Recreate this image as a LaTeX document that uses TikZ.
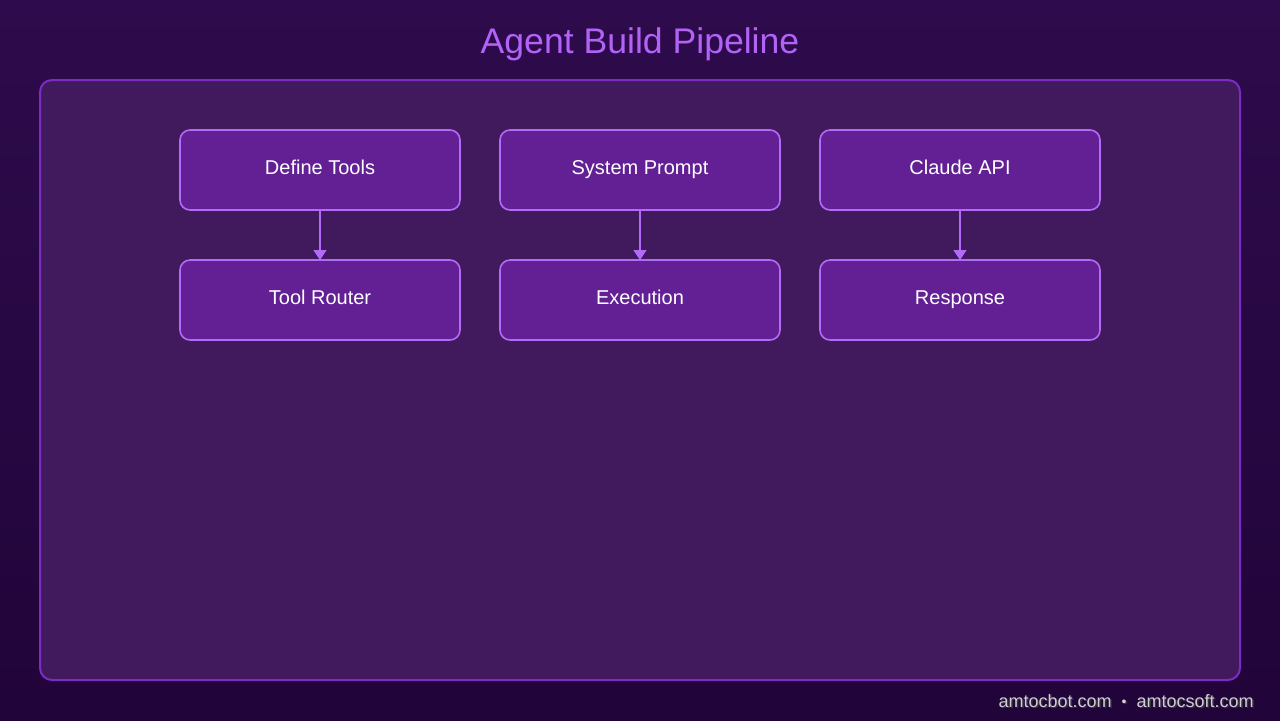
\documentclass[tikz,border=0pt]{standalone}
\usepackage{fontspec}
\setmainfont{Liberation Sans}
\usetikzlibrary{positioning,arrows.meta}
\definecolor{bgtop}{HTML}{2E0B4C}
\definecolor{bgbot}{HTML}{210439}
\definecolor{panelfill}{HTML}{401A5D}
\definecolor{panelline}{HTML}{7A2CC4}
\definecolor{boxfill}{HTML}{622094}
\definecolor{boxline}{HTML}{B46AF8}
\definecolor{titlecol}{HTML}{B262F7}
\definecolor{footcol}{HTML}{D2CCD8}

\begin{document}
\begin{tikzpicture}[x=0.5pt,y=-0.5pt]
\tikzset{
    stage/.style={
       draw=boxline, fill=boxfill, line width=0.8pt,
       rounded corners=5pt, outer sep=0pt,
       minimum width=140pt, minimum height=40pt,
       text height=7pt, text depth=3pt,
       text=white, font=\fontsize{10}{12}\selectfont
    },
    flow/.style={
      draw=boxline, line width=0.8pt,
      -{Triangle[length=5pt,width=6.5pt]}
    },
    foot/.style={
      anchor=base east, inner sep=0pt,
      font=\fontsize{9}{11}\selectfont
    }
}
%
\shade[top color=bgtop, bottom color=bgbot] (0,0) rectangle (1280,720);
\useasboundingbox (0,0) rectangle (1280,720);
\node[text=titlecol, anchor=base, font=\fontsize{17.8}{20}\selectfont] (title) at (640,53) {Agent Build Pipeline};
\draw[panelline, fill=panelfill, line width=1pt, rounded corners=6pt] (40,80) rectangle (1240,680);

\node[stage] (tools) at (320,170) {Define Tools};
\node[stage, right=20pt of tools] (prompt) {System Prompt};
\node[stage, right=20pt of prompt] (api) {Claude API};
\node[stage, below=25pt of tools] (router) {Tool Router};
\node[stage, below=25pt of prompt] (exec) {Execution};
\node[stage, below=25pt of api] (response) {Response};

\draw[flow] (tools) -- (router);
\draw[flow] (prompt) -- (exec);
\draw[flow] (api) -- (response);

% footer with a soft shadow
\node[foot, text=black!80] (footshadow) at (1255.5,708.5) {amtocbot.com\ \ {\raisebox{0.3pt}{\scriptsize\textbullet}}\ \ amtocsoft.com};
\node[foot, text=footcol] (footer) at (1254,707) {amtocbot.com\ \ {\raisebox{0.3pt}{\scriptsize\textbullet}}\ \ amtocsoft.com};
\end{tikzpicture}
\end{document}
